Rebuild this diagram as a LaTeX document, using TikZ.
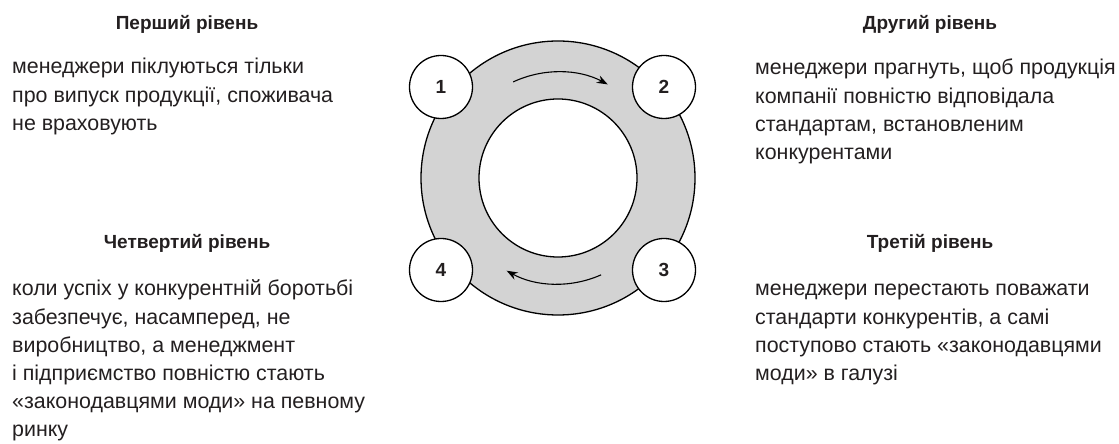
\documentclass[tikz,border=0pt]{standalone}
\usepackage{fontspec}
\setmainfont{Liberation Sans}
\usetikzlibrary{calc,arrows.meta}
\definecolor{txt}{HTML}{231F20}
\definecolor{ringfill}{HTML}{D3D3D3}
\tikzset{
  title/.style={anchor=base, inner sep=0pt, text=txt, font={\fontsize{19}{22}\selectfont\bfseries}},
  body/.style={anchor=base west, inner sep=0pt, align=left, text=txt, font={\fontsize{21.4}{28.2}\selectfont}},
  numcirc/.style={circle, draw=black, line width=1.3pt, fill=white, minimum size=63pt, inner sep=0pt, text=txt, font={\fontsize{19}{22}\selectfont\bfseries}},
  ringline/.style={draw=black, line width=1.3pt},
  flow/.style={draw=black, line width=1.1pt, -{Stealth[length=11pt,width=8pt]}}
}
\begin{document}
\begin{tikzpicture}[x=1pt,y=1pt]
\useasboundingbox (0,0) rectangle (1119,444);
\coordinate (c) at (558,266);
% ring
\path[ringline, fill=ringfill] (c) circle[radius=137];
\path[ringline, fill=white] (c) circle[radius=79];
% arrows
\coordinate (a1s) at ($(c)+(115:106)$);
\coordinate (a2s) at ($(c)+(-66:106)$);
\draw[flow] (a1s) arc[start angle=115, end angle=62, radius=106];
\draw[flow] (a2s) arc[start angle=-66, end angle=-119, radius=106];
% number circles
\node[numcirc] (n1) at (441,357) {1};
\node[numcirc] (n2) at (664,357) {2};
\node[numcirc] (n3) at (664,174) {3};
\node[numcirc] (n4) at (441,174) {4};
% titles
\node[title] (t1) at (187,414) {Перший рівень};
\node[title] (t2) at (930,414) {Другий рівень};
\node[title] (t4) at (187,195) {Четвертий рівень};
\node[title] (t3) at (930,195) {Третій рівень};
% bodies (anchor = baseline of last line)
\node[body] (b1) at (12,313.6) {менеджери піклуються тільки\\про випуск продукції, споживача\\не враховують};
\node[body] (b2) at (755,284.4) {менеджери прагнуть, щоб продукція\\компанії повністю відповідала\\стандартам, встановленим\\конкурентами};
\node[body] (b4) at (12,7) {коли успіх у конкурентній боротьбі\\забезпечує, насамперед, не\\виробництво, а менеджмент\\і підприємство повністю стають\\«законодавцями моди» на певному\\ринку};
\node[body] (b3) at (755,63.4) {менеджери перестають поважати\\стандарти конкурентів, а самі\\поступово стають «законодавцями\\моди» в галузі};
\end{tikzpicture}
\end{document}
